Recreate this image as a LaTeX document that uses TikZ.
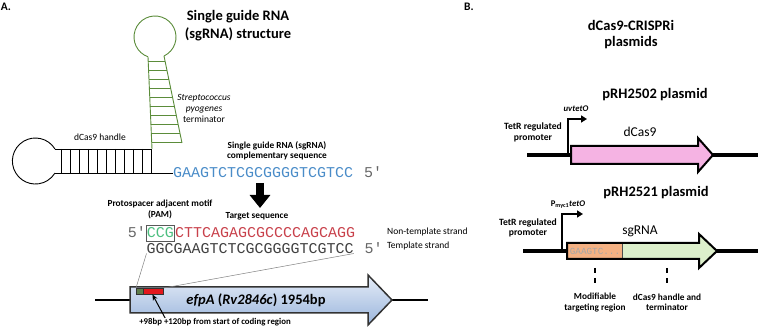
\documentclass[tikz,border=0pt]{standalone}
\usepackage{fontspec}
\setmainfont{Carlito}
\newfontfamily\seqfont{Liberation Mono}
\usepackage{tikz}
\usetikzlibrary{arrows.meta,positioning,calc}
\definecolor{GuideBlue}{HTML}{4A8CC8}
\definecolor{TargetRed}{HTML}{C8414B}
\definecolor{PamGreen}{HTML}{4DBF80}
\definecolor{StemGreen}{HTML}{5B8C3A}
\definecolor{SeqGray}{HTML}{404040}
\definecolor{GeneTop}{HTML}{E6EDF8}
\definecolor{GeneBottom}{HTML}{9AB5DC}
\definecolor{CasPink}{HTML}{F5B3E3}
\definecolor{HandleGreen}{HTML}{DCEFCB}
\definecolor{TargetOrange}{HTML}{F4B183}
\definecolor{PamBox}{HTML}{5E7D4A}
\definecolor{SiteRed}{HTML}{E3171C}
\tikzset{
  paneltitle/.style={font=\bfseries\fontsize{14.5}{18}\selectfont,align=center,inner sep=0pt},
  panelletter/.style={font=\bfseries\fontsize{11.5}{13}\selectfont,inner sep=0pt},
  note/.style={font=\fontsize{9.5}{11}\selectfont,align=center,inner sep=0pt},
  boldnote/.style={font=\bfseries\fontsize{9.3}{10.5}\selectfont,align=center,inner sep=0pt},
  promlab/.style={font=\bfseries\itshape\fontsize{8.7}{10}\selectfont,inner sep=0pt},
  genelab/.style={font=\fontsize{13.5}{15}\selectfont,inner sep=0pt},
  seq/.style={font=\seqfont\fontsize{15}{15}\selectfont,inner sep=0pt,text height=8.6pt,text depth=0pt},
  rna/.style={line width=0.9pt},
  zoomline/.style={draw=gray,line width=0.5pt},
  dnaline/.style={line width=1.5pt},
  backbone/.style={line width=4pt},
  genebody/.style={draw=black!80,line width=1.5pt,top color=GeneTop,bottom color=GeneBottom},
  cds/.style={draw=black,line width=2pt},
  promoter/.style={line width=1.8pt,-{Triangle[length=6pt,width=7pt]}},
  tick/.style={line width=1.3pt,dash pattern=on 5pt off 5pt},
  blockarrow/.style={line width=8pt,-{Triangle[length=13pt,width=20pt]}},
}
\newcommand\sgarrow{(567,243) -- (699,243) -- (699,234) -- (717,251) -- (699,268) -- (699,259) -- (567,259) -- cycle}

\begin{document}
\begin{tikzpicture}[x=1pt,y=-1pt]
  \useasboundingbox (0,0) rectangle (758,328);

  % ── Panel A: sgRNA structure ──
  \node[panelletter] (la) at (6,7) {A.};
  \node[paneltitle] (ttla) at (238,26) {Single guide RNA\\(sgRNA) structure};

  % terminator hairpin
  \coordinate (sl1) at (148,56.8);
  \coordinate (sl2) at (152,149);
  \coordinate (sr1) at (164,56);
  \coordinate (sr2) at (182,143);
  \draw[rna,StemGreen] (sl1) arc[start angle=109.5,end angle=424.6,radius=21];
  \draw[rna,StemGreen] (sl1) -- (sl2);
  \draw[rna,StemGreen] (sr1) -- (sr2);
  \foreach \y in {61,70,...,142}
    \draw[rna,StemGreen] ({148+0.0434*(\y-56.8)},\y) -- ({164+0.207*(\y-56)},\y);
  \node[note] (termlab) at (204,108) {\textit{Streptococcus}\\\textit{pyogenes}\\terminator};

  % dCas9 handle
  \node[seq,GuideBlue,anchor=west] (guide) at (173,173) {GAAGTCTCGCGGGGTCGTCC};
  \node[seq,black!60,right=10.5pt of guide] (g5) {5′};
  \draw[rna] (55,149) arc[start angle=-31.5,end angle=-328.5,radius=23];
  \draw[rna] (55,149) -- (sl2);
  \draw[rna] (55,173) -- (guide.west);
  \foreach \x in {61,70,...,151}
    \draw[rna] (\x,149) -- (\x,173);
  \node[note] (handlelab) at (100,137) {dCas9 handle};
  \node[boldnote] (complab) at (277,151) {Single guide RNA (sgRNA)\\complementary sequence};

  % target
  \coordinate (dtop) at (260,183);
  \coordinate (dtip) at (260,208);
  \draw[blockarrow] (dtop) -- (dtip);
  \node[boldnote] (tgtlab) at (257,216.5) {Target sequence};
  \node[boldnote] (pamlab) at (160,209.5) {Protospacer adjacent motif\\(PAM)};

  \node[seq,PamGreen,draw=black!65,line width=0.8pt,inner xsep=0.5pt,inner ysep=3.7pt,anchor=west] (pam) at (146,233) {CCG};
  \node[seq,TargetRed,right=0pt of pam] (nontemp) {CTTCAGAGCGCCCCAGCAGG};
  \node[seq,black!60,left=0pt of pam] (n5) {5′};
  \node[seq,SeqGray,anchor=west] (temp) at (146.5,249) {GGCGAAGTCTCGCGGGGTCGTCC};
  \node[seq,black!60,right=10.5pt of temp] (t5) {5′};
  \node[note,anchor=west] (ntlab) at (387,232) {Non-template strand};
  \node[note,anchor=west] (tlab) at (387,246) {Template strand};

  % efpA gene
  \draw[dnaline] (95,300) -- (130,300);
  \draw[dnaline] (392,300) -- (428,300);
  \draw[genebody] (130,287) -- (368,287) -- (368,275) -- (392,300) -- (368,325) -- (368,313) -- (130,313) -- cycle;
  \node[font=\bfseries\fontsize{14.5}{17}\selectfont,inner sep=0pt] (efpa) at (256,300) {\textit{efpA} (\textit{Rv2846c}) 1954bp};
  \node[draw=black!80,fill=PamBox,minimum width=7pt,minimum height=6pt,inner sep=0pt,anchor=north west] (pambox) at (136,288) {};
  \node[draw=black!80,fill=SiteRed,minimum width=20pt,minimum height=6pt,inner sep=0pt,right=0pt of pambox] (sitebox) {};
  \draw[zoomline] (temp.south west) -- (pambox.north west);
  \draw[zoomline] (temp.south east) -- (sitebox.north east);
  \node[boldnote,font=\bfseries\fontsize{8.8}{10}\selectfont] (poslab) at (215,322) {+98bp +120bp from start of coding region};
  \draw[-{Stealth[length=6pt,width=5pt]},line width=1pt] ([xshift=26pt]poslab.north west) -- ([xshift=9pt]sitebox.south west);

  % ── Panel B: plasmids ──
  \node[panelletter] (lb) at (469,7) {B.};
  \node[paneltitle,font=\bfseries\fontsize{14.5}{16}\selectfont] (ttlb) at (631,35) {dCas9-CRISPRi\\plasmids};

  % pRH2502
  \node[paneltitle] (p2502) at (655,95) {pRH2502 plasmid};
  \draw[backbone] (527,155) -- (758,155);
  \draw[cds,fill=CasPink] (571,146) -- (698,146) -- (698,138) -- (713,155) -- (698,172) -- (698,164) -- (571,164) -- cycle;
  \node[genelab] (caslab) at (640,132) {dCas9};
  \coordinate (prom1) at (568,155);
  \coordinate (tss1) at (587,119);
  \draw[promoter] (prom1) |- (tss1);
  \node[promlab] (uvlab) at (576,109) {uvtetO};
  \node[boldnote,font=\bfseries\fontsize{9.6}{10.5}\selectfont] (tetr1) at (533,132.5) {TetR regulated\\promoter};

  % pRH2521
  \node[paneltitle] (p2521) at (656,193) {pRH2521 plasmid};
  \draw[backbone] (523,251) -- (758,251);
  \fill[HandleGreen] \sgarrow;
  \node[draw=black!70,line width=1pt,fill=TargetOrange,minimum width=55pt,minimum height=16pt,inner sep=0pt,anchor=north west,
        font=\seqfont\fontsize{9.3}{10}\selectfont,text=black!35] (tbox) at (567,243) {GAAGTC...};
  \draw[cds] \sgarrow;
  \node[genelab] (sglab) at (640,231) {sgRNA};
  \coordinate (prom2) at (562,251);
  \coordinate (tss2) at (583,214);
  \draw[promoter] (prom2) |- (tss2);
  \node[promlab] (pmyclab) at (568,205) {\upshape P\textsubscript{myc1}\itshape tetO};
  \node[boldnote,font=\bfseries\fontsize{9.6}{10.5}\selectfont] (tetr2) at (528,228) {TetR regulated\\promoter};
  \node[boldnote] (modlab) at (595,302.5) {Modifiable\\targeting region};
  \node[boldnote] (hdllab) at (667,302.5) {dCas9 handle and\\terminator};
  \draw[tick,shorten <=8pt,shorten >=10pt] (tbox.south) -- (modlab.north);
  \draw[tick,shorten <=8pt,shorten >=10pt] (hdllab.north |- tbox.south) -- (hdllab.north);
\end{tikzpicture}
\end{document}
